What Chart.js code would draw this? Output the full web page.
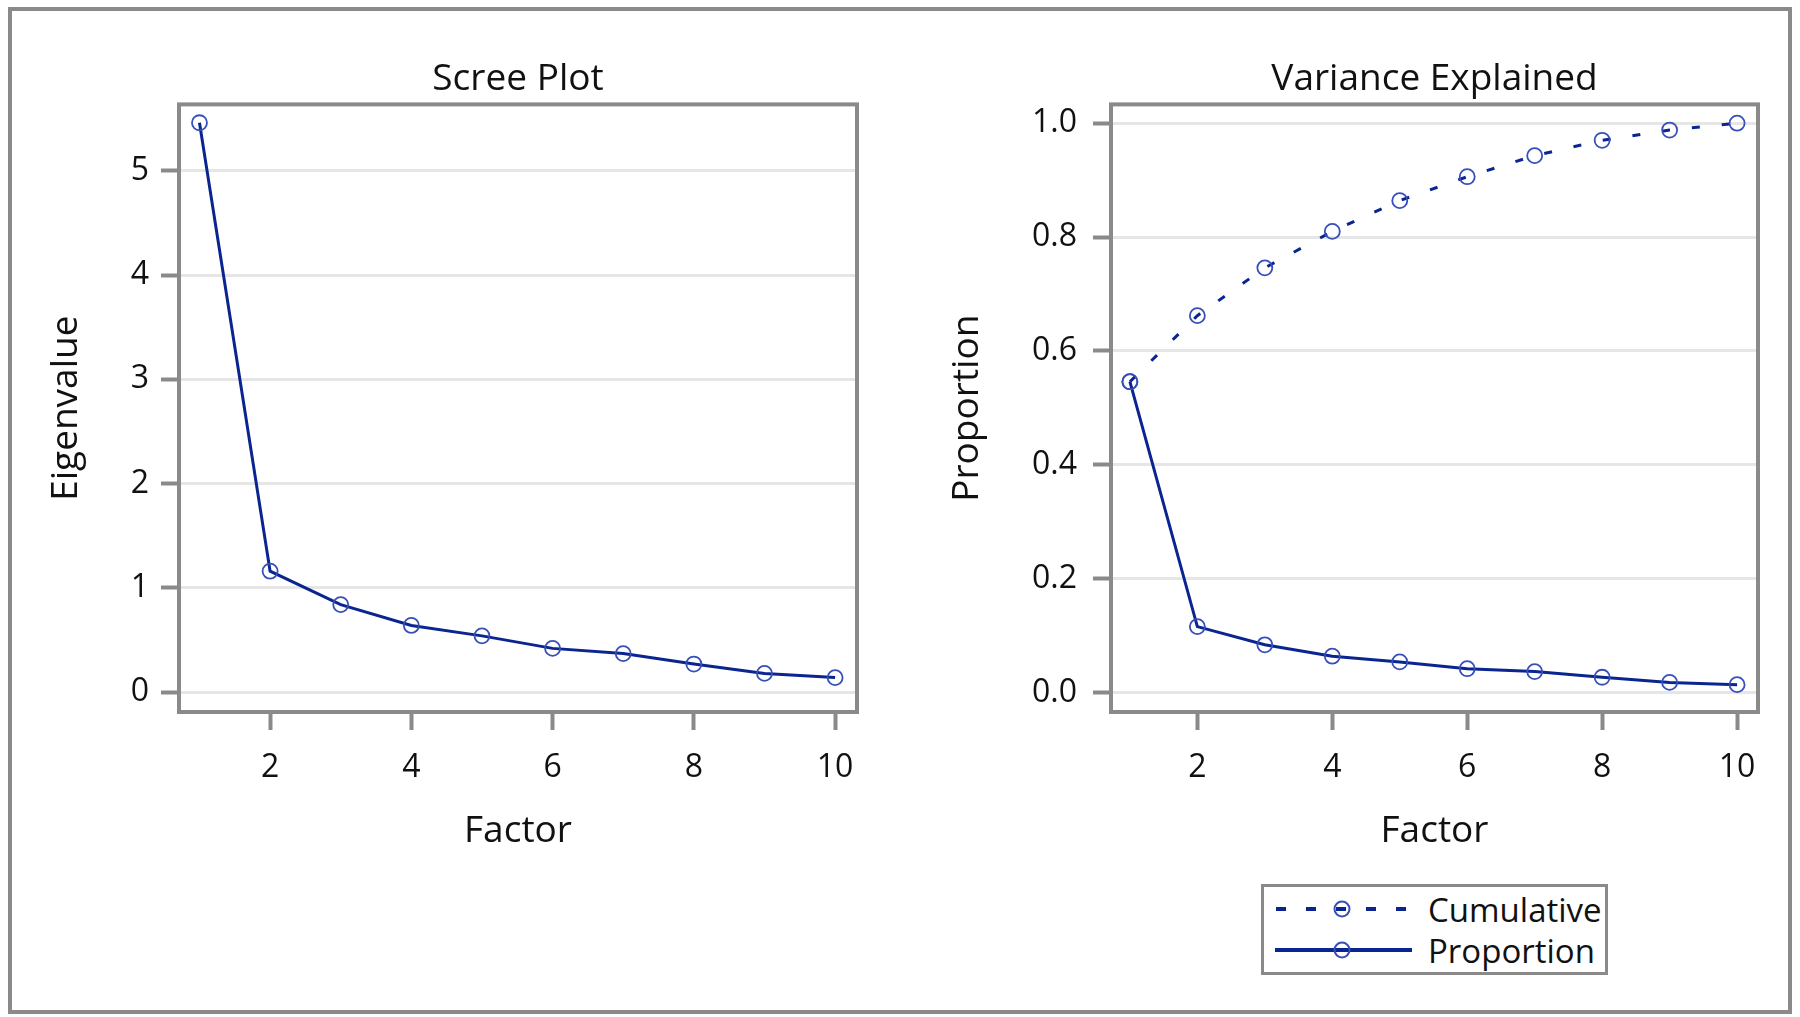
<!DOCTYPE html>
<html lang="en">
<head>
    <meta charset="UTF-8">
    <title>Scree Plot and Variance Explained</title>
    <script src="https://cdn.jsdelivr.net/npm/chart.js"></script>
    <style>
        body { margin: 0; background: #fff; font-family: 'Open Sans', sans-serif; }
        .frame { position: absolute; left: 8px; top: 7px; width: 1776px; height: 999px; border: 4px solid #8a8a8a; }
        canvas { position: absolute; }
        #screeChart { left: 0; top: 0; }
        #varianceChart { left: 900px; top: 0; }
        .legend { position: absolute; left: 1261px; top: 884px; width: 347px; height: 91px; box-sizing: border-box; border: 3px solid #8a8a8a; background: #fff; }
        .legend .row { position: absolute; left: 8px; height: 40px; display: flex; align-items: center; }
        .legend span { margin-left: 16px; font-size: 33px; color: #111; }
    </style>
</head>
<body>
    <div class="frame"></div>
    <canvas id="screeChart" width="900" height="860"></canvas>
    <canvas id="varianceChart" width="900" height="860"></canvas>

    <div class="legend">
        <div class="row" style="top:2px">
            <svg width="140" height="40"><line x1="4" y1="20" x2="140" y2="20" stroke="#0a2590" stroke-width="4" stroke-dasharray="10 20"/><circle cx="70" cy="20" r="7.5" fill="none" stroke="#3750b9" stroke-width="2"/></svg>
            <span>Cumulative</span>
        </div>
        <div class="row" style="top:43px">
            <svg width="140" height="40"><line x1="3" y1="20" x2="140" y2="20" stroke="#0a2590" stroke-width="4"/><circle cx="70" cy="20" r="7.5" fill="none" stroke="#3750b9" stroke-width="2"/></svg>
            <span>Proportion</span>
        </div>
    </div>

    <script>
        // data
        const factors = [1, 2, 3, 4, 5, 6, 7, 8, 9, 10];
        const eigenvalues = [5.46, 1.16, 0.84, 0.64, 0.54, 0.42, 0.37, 0.27, 0.18, 0.14];
        const proportion = [0.546, 0.116, 0.084, 0.064, 0.054, 0.042, 0.037, 0.027, 0.018, 0.014];
        const cumulative = [0.546, 0.662, 0.746, 0.810, 0.864, 0.906, 0.943, 0.970, 0.988, 1.0];
        const xTicks = [2, 4, 6, 8, 10];
        const eigenTicks = [0, 1, 2, 3, 4, 5];
        const propTicks = [0, 0.2, 0.4, 0.6, 0.8, 1.0];

        const lineColor = '#0a2590';
        const markerColor = '#3750b9';
        const frameGray = '#8a8a8a';
        const gridGray = '#e6e6e6';
        const font = "'Open Sans', sans-serif";

        const points = ys => factors.map((f, i) => ({ x: f, y: ys[i] }));

        // box around the plot area
        const boxPlugin = {
            id: 'box',
            afterDraw(chart) {
                const a = chart.chartArea;
                const ctx = chart.ctx;
                ctx.save();
                ctx.strokeStyle = frameGray;
                ctx.lineWidth = 4;
                ctx.strokeRect(a.left, a.top, a.right - a.left, a.bottom - a.top);
                ctx.restore();
            }
        };

        function series(label, ys, dash) {
            return {
                label: label,
                data: points(ys),
                borderColor: lineColor,
                borderWidth: 3,
                borderDash: dash || [],
                pointStyle: 'circle',
                pointRadius: 7.5,
                pointBorderWidth: 1.8,
                pointBorderColor: markerColor,
                pointBackgroundColor: 'rgba(0,0,0,0)',
                tension: 0
            };
        }

        function makeOptions(cfg) {
            return {
                responsive: false,
                animation: false,
                layout: { padding: { top: 57, right: cfg.padRight, bottom: 0, left: 0 } },
                plugins: {
                    legend: { display: false },
                    tooltip: { enabled: false },
                    title: {
                        display: true, fullSize: false, text: cfg.title, color: '#111',
                        font: { family: font, size: 37, weight: 'normal' },
                        padding: { top: 0, bottom: 3 }
                    }
                },
                scales: {
                    x: {
                        type: 'linear', min: cfg.xMin, max: 10.31,
                        afterBuildTicks: s => { s.ticks = xTicks.map(v => ({ value: v })); },
                        afterFit: s => { s.height = 860 - 712; },
                        border: { display: false },
                        grid: { drawOnChartArea: false, drawTicks: true, tickLength: 18, tickWidth: 4, tickColor: frameGray },
                        ticks: { color: '#111', padding: 19, font: { family: font, size: 32 } },
                        title: { display: true, text: 'Factor', color: '#111', font: { family: font, size: 37 }, padding: { top: 0, bottom: 6 } }
                    },
                    y: {
                        min: cfg.yMin, max: cfg.yMax,
                        afterBuildTicks: s => { s.ticks = cfg.yTicks.map(v => ({ value: v })); },
                        afterFit: s => { s.width = cfg.yWidth; },
                        border: { display: false },
                        grid: { color: gridGray, lineWidth: 3, tickLength: 18, tickWidth: 4, tickColor: frameGray },
                        ticks: { color: '#111', padding: cfg.tickPad, font: { family: font, size: 32 }, callback: cfg.fmt },
                        title: { display: true, text: cfg.yTitle, color: '#111', font: { family: font, size: 37 }, padding: { top: cfg.yTitlePad, bottom: 0 } }
                    }
                }
            };
        }

        new Chart(document.getElementById('screeChart').getContext('2d'), {
            type: 'line',
            data: { datasets: [series('Eigenvalue', eigenvalues)] },
            options: makeOptions({
                title: 'Scree Plot', padRight: 43, xMin: 0.71,
                yMin: -0.19, yMax: 5.636, yTicks: eigenTicks, yWidth: 179,
                tickPad: 12, yTitle: 'Eigenvalue', yTitlePad: 44,
                fmt: v => String(v)
            }),
            plugins: [boxPlugin]
        });

        new Chart(document.getElementById('varianceChart').getContext('2d'), {
            type: 'line',
            data: { datasets: [series('Cumulative', cumulative, [8, 22]), series('Proportion', proportion)] },
            options: makeOptions({
                title: 'Variance Explained', padRight: 42, xMin: 0.72,
                yMin: -0.034, yMax: 1.033, yTicks: propTicks, yWidth: 211,
                tickPad: 16, yTitle: 'Proportion', yTitlePad: 45,
                fmt: v => v.toFixed(1)
            }),
            plugins: [boxPlugin]
        });
    </script>
</body>
</html>
